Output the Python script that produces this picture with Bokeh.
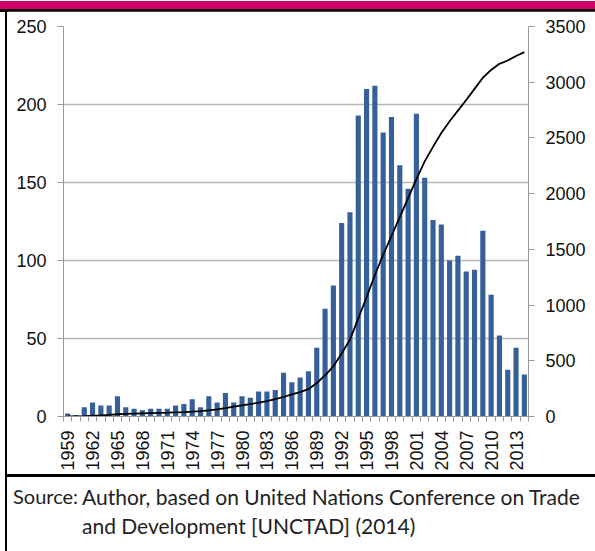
from bokeh.plotting import figure
from bokeh.layouts import row, column
from bokeh.models import Range1d, LinearAxis, FixedTicker, Div
from bokeh.embed import file_html
from bokeh.resources import INLINE

years = list(range(1959, 2015))
counts = [2, 1, 6, 9, 7, 7, 13, 6, 5, 4,
          5, 5, 5, 7, 8, 11, 6, 13, 9, 15,
          9, 13, 12, 16, 16, 17, 28, 22, 25, 29,
          44, 69, 84, 124, 131, 193, 210, 212, 182, 192,
          161, 146, 194, 153, 126, 123, 100, 103, 93, 94,
          119, 78, 52, 30, 44, 27]
cumulative = [0, 2, 4, 7, 10, 14, 20, 24, 26, 28,
              30, 32, 34, 37, 40, 44, 49, 55, 63, 75,
              88, 100, 112, 124, 138, 155, 175, 198, 218, 245,
              300, 370, 450, 565, 690, 880, 1070, 1270, 1450, 1620,
              1790, 1960, 2130, 2290, 2420, 2545, 2650, 2745, 2840, 2940,
              3040, 3110, 3165, 3195, 3235, 3270]
label_years = list(range(1959, 2015, 3))
left_ticks = [0, 50, 100, 150, 200, 250]
right_ticks = [0, 500, 1000, 1500, 2000, 2500, 3000, 3500]
source_label = "Source:"
source_lines = ["Author, based on United Nations Conference on Trade",
                "and Development [UNCTAD] (2014)"]

MAGENTA = "#d00068"
BAR = "#36609a"
AXIS_GRAY = "#9a9a9a"
GRID_GRAY = "#b8b8b8"
TICK_FONT = "Liberation Sans"
SRC_FONT = "Lato"

FULL_W = 595
INNER_W = 588
MAIN_H = 463
FOOT_H = 77

# header: colour band + black rule
header = Div(width=FULL_W, height=11, margin=0,
             text=('<div style="width:%dpx;height:8px;background:%s"></div>'
                   '<div style="width:%dpx;height:3px;background:black"></div>')
             % (FULL_W, MAGENTA, FULL_W))

# left border
left = Div(width=7, height=MAIN_H + FOOT_H, margin=0,
           text=('<div style="margin-left:5px;width:2px;height:%dpx;background:black"></div>'
                 % (MAIN_H + FOOT_H)))

# main chart
p = figure(width=INNER_W, height=MAIN_H, x_range=Range1d(1958.5, 2014.5), y_range=Range1d(0, 250),
           output_backend="svg", toolbar_location=None,
           min_border_left=56, min_border_right=67, min_border_top=15, min_border_bottom=58)
p.outline_line_color = None
p.background_fill_color = "white"
p.border_fill_color = "white"
p.extra_y_ranges = {"cum": Range1d(0, 3500)}

p.vbar(x=years, top=counts, width=0.62, color=BAR, line_color=None)
p.line(years, cumulative, y_range_name="cum", color="black", line_width=1.8)

p.xgrid.visible = False
p.ygrid.ticker = FixedTicker(ticks=left_ticks)
p.ygrid.grid_line_color = GRID_GRAY
p.ygrid.grid_line_width = 1.3

xa = p.xaxis[0]
xa.ticker = FixedTicker(ticks=label_years, minor_ticks=[y - 0.5 for y in years] + [2014.5])
xa.major_label_overrides = {y: str(y) for y in label_years}
xa.major_label_orientation = 1.5707963
xa.major_tick_line_color = None
xa.major_tick_out = 0
xa.major_tick_in = 0
xa.minor_tick_out = 5
xa.minor_tick_in = 0
xa.minor_tick_line_color = AXIS_GRAY
xa.axis_line_color = AXIS_GRAY
xa.major_label_standoff = 9

ya = p.yaxis[0]
ya.ticker = FixedTicker(ticks=left_ticks)
ya.minor_tick_line_color = None
ya.major_tick_out = 6
ya.major_tick_in = 0
ya.major_tick_line_color = AXIS_GRAY
ya.axis_line_color = AXIS_GRAY
ya.major_label_standoff = 11

ra = LinearAxis(y_range_name="cum", ticker=FixedTicker(ticks=right_ticks))
ra.minor_tick_line_color = None
ra.major_tick_out = 6
ra.major_tick_in = 0
ra.major_tick_line_color = AXIS_GRAY
ra.axis_line_color = AXIS_GRAY
ra.major_label_standoff = 11
p.add_layout(ra, "right")

for ax in (xa, ya, ra):
    ax.major_label_text_font = TICK_FONT
    ax.major_label_text_font_size = "18px"
    ax.major_label_text_color = "#111111"

# footer: rule + source note
footer = Div(width=INNER_W, height=FOOT_H, margin=0, text=(
    '<div style="position:relative;width:%dpx;height:%dpx;font-family:%s;'
    'font-size:21px;color:#222222;line-height:29px">'
    '<div style="position:absolute;left:0;top:0;width:%dpx;height:3px;background:black"></div>'
    '<div style="position:absolute;left:6px;top:8px;white-space:nowrap;font-size:20px">%s</div>'
    '<div style="position:absolute;left:75px;top:8px;white-space:nowrap">%s<br>%s</div>'
    '</div>') % (INNER_W, FOOT_H, SRC_FONT, INNER_W, source_label,
                 source_lines[0], source_lines[1]))

layout = column(header, row(left, column(p, footer)))
open("out.html", "w").write(file_html(layout, INLINE))
